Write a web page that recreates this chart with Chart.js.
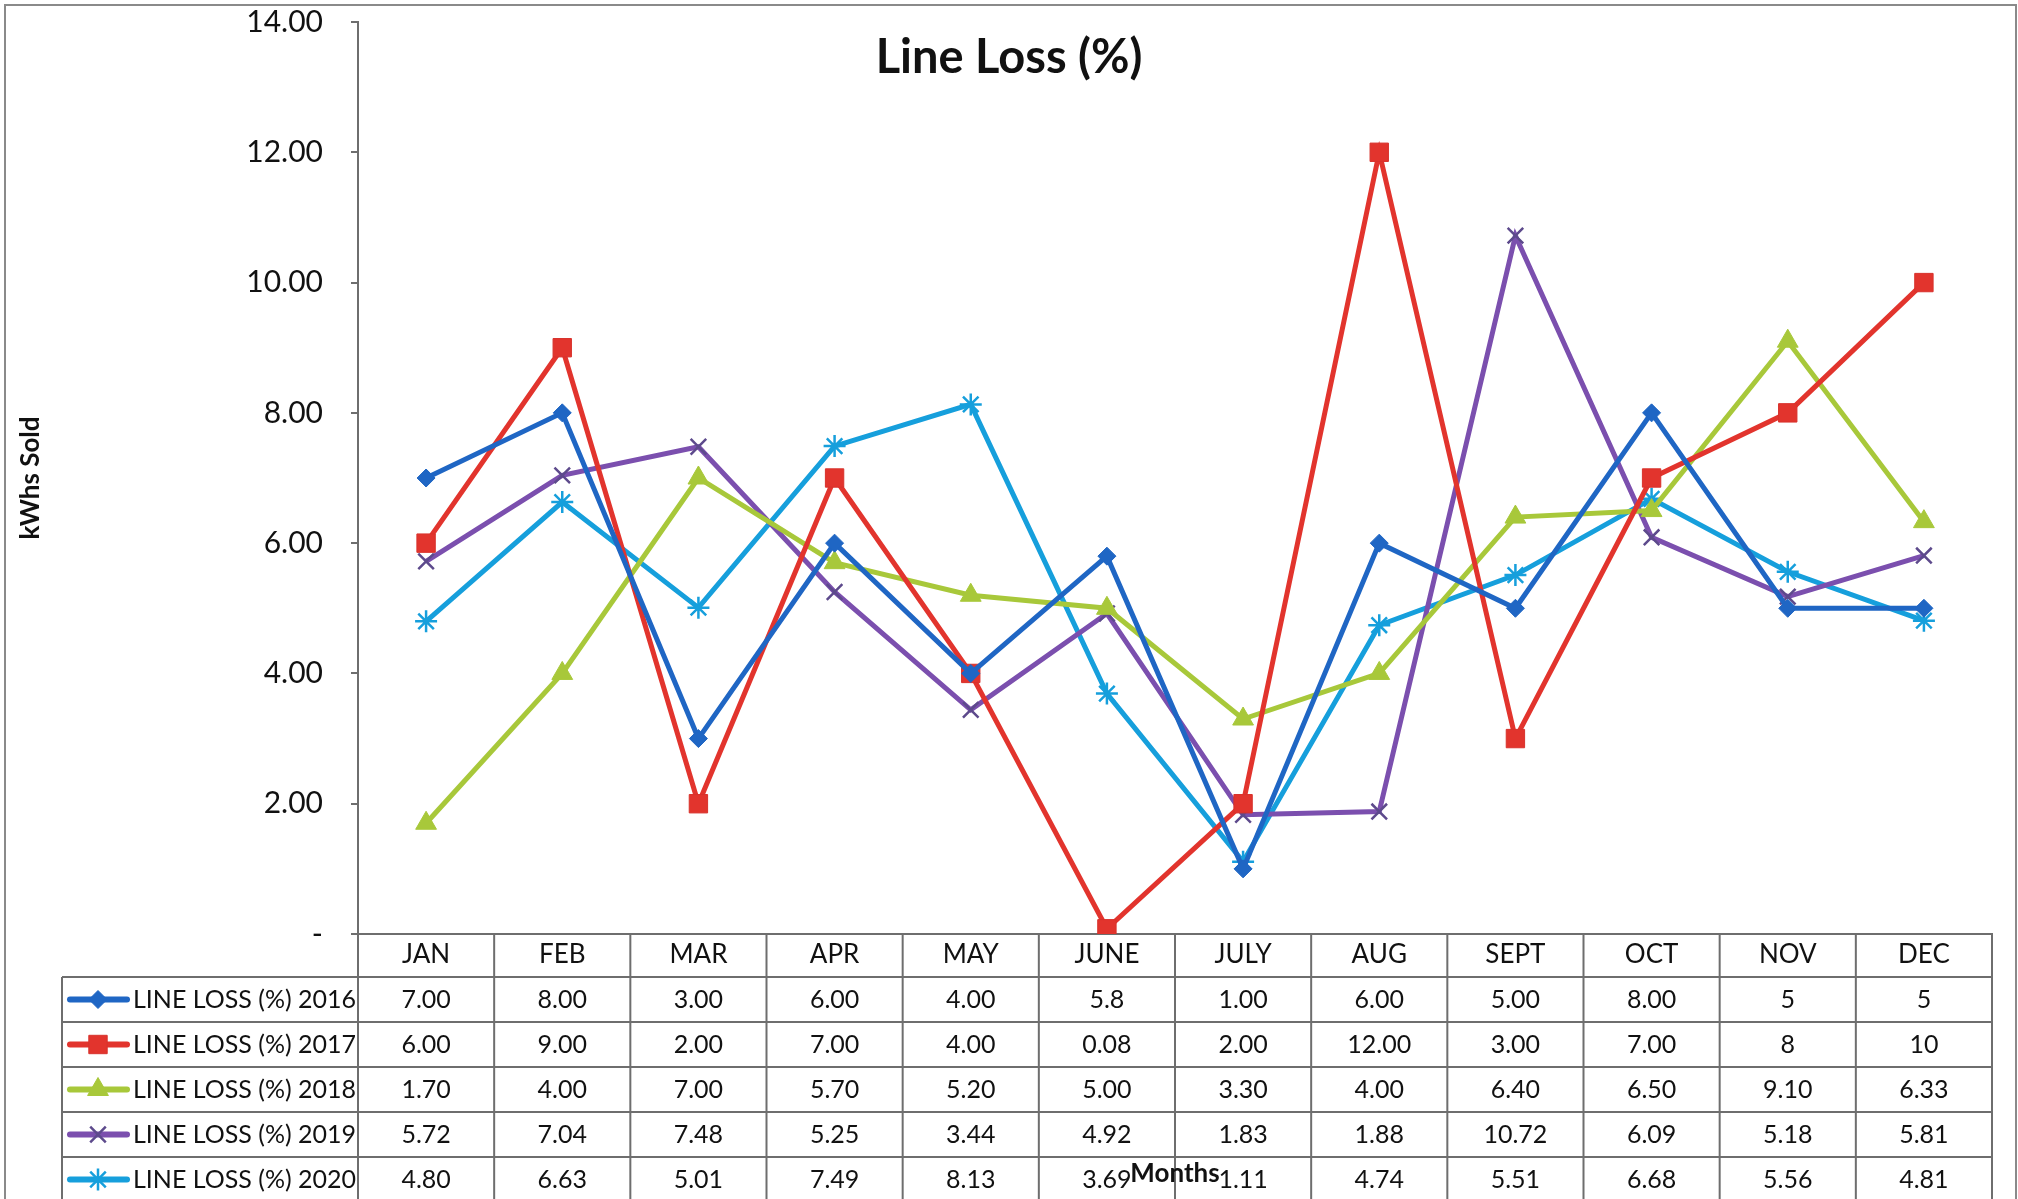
<!DOCTYPE html>
<html>
<head>
<meta charset="utf-8">
<title>Line Loss (%)</title>
<script src="https://cdn.jsdelivr.net/npm/chart.js@4.4.0/dist/chart.umd.min.js"></script>
<style>
  html, body { margin: 0; padding: 0; background: #fff; }
  #wrap { width: 2018px; height: 1199px; }
</style>
</head>
<body>
<div id="wrap"><canvas id="lineLossChart" width="2018" height="1199"></canvas></div>
<script>
// Months on the x axis (also the table header)
const months = ['JAN', 'FEB', 'MAR', 'APR', 'MAY', 'JUNE', 'JULY', 'AUG', 'SEPT', 'OCT', 'NOV', 'DEC'];

// Line loss values as printed in the data table
const loss2016 = ['7.00', '8.00', '3.00', '6.00', '4.00', '5.8', '1.00', '6.00', '5.00', '8.00', '5', '5'];
const loss2017 = ['6.00', '9.00', '2.00', '7.00', '4.00', '0.08', '2.00', '12.00', '3.00', '7.00', '8', '10'];
const loss2018 = ['1.70', '4.00', '7.00', '5.70', '5.20', '5.00', '3.30', '4.00', '6.40', '6.50', '9.10', '6.33'];
const loss2019 = ['5.72', '7.04', '7.48', '5.25', '3.44', '4.92', '1.83', '1.88', '10.72', '6.09', '5.18', '5.81'];
const loss2020 = ['4.80', '6.63', '5.01', '7.49', '8.13', '3.69', '1.11', '4.74', '5.51', '6.68', '5.56', '4.81'];

const seriesNames = ['LINE LOSS (%) 2016', 'LINE LOSS (%) 2017', 'LINE LOSS (%) 2018', 'LINE LOSS (%) 2019', 'LINE LOSS (%) 2020'];
const seriesRows = [loss2016, loss2017, loss2018, loss2019, loss2020];

// Y axis ticks
const yMin = 0;
const yMax = 14;
const yStep = 2;

// Series styling
const seriesColors = ['#1f66c4', '#e2342d', '#a8c83a', '#7b4fae', '#169fdc'];
const markerBorders = ['#1f66c4', '#d8322c', '#a8c83a', '#5d4a8c', '#169fdc'];
const markerStyles = ['rectRot', 'rect', 'triangle', 'crossRot', 'star'];
const markerSizes = [9, 13, 12, 11, 11];

const FONT = 'Lato, "Open Sans", sans-serif';
const GRID = '#6e6e6e';

const datasets = seriesRows.map((row, i) => ({
    label: seriesNames[i],
    data: row.map(Number),
    borderColor: seriesColors[i],
    backgroundColor: seriesColors[i],
    borderWidth: 5,
    tension: 0,
    pointStyle: markerStyles[i],
    pointRadius: markerSizes[i],
    pointBackgroundColor: seriesColors[i],
    pointBorderColor: markerBorders[i],
    pointBorderWidth: (markerStyles[i] === 'crossRot' || markerStyles[i] === 'star') ? 2.5 : 1
}));

// Data table under the plot plus the chart title
const tablePlugin = {
    id: 'dataTable',
    beforeDraw(chart) {
        const ctx = chart.ctx;
        const area = chart.chartArea;
        const x = chart.scales.x;
        const colW = (area.right - area.left) / months.length;
        const headerTop = area.bottom;
        const rowsTop = headerTop + 43;
        const rowH = 45;
        const legendLeft = 62;
        const tableBottom = rowsTop + rowH * seriesRows.length;

        ctx.save();
        ctx.fillStyle = '#fff';
        ctx.fillRect(0, 0, chart.width, chart.height);

        // outer chart border
        ctx.strokeStyle = '#8a8a8a';
        ctx.lineWidth = 2;
        ctx.strokeRect(5, 5, chart.width - 7, chart.height + 10);

        // table grid
        ctx.strokeStyle = GRID;
        ctx.lineWidth = 2;
        ctx.beginPath();
        for (let c = 0; c <= months.length; c++) {
            const cx = area.left + c * colW;
            ctx.moveTo(cx, headerTop);
            ctx.lineTo(cx, tableBottom);
        }
        ctx.moveTo(legendLeft, rowsTop);
        ctx.lineTo(legendLeft, tableBottom);
        for (let r = 0; r <= seriesRows.length; r++) {
            const ry = rowsTop + r * rowH;
            ctx.moveTo(legendLeft, ry);
            ctx.lineTo(area.right, ry);
        }
        ctx.stroke();

        // rows: legend key, name, values
        ctx.textBaseline = 'middle';
        ctx.font = '25px ' + FONT;
        seriesRows.forEach((row, r) => {
            const cy = rowsTop + r * rowH + rowH / 2;
            const ds = chart.data.datasets[r];
            ctx.strokeStyle = ds.borderColor;
            ctx.lineWidth = 6;
            ctx.lineCap = 'round';
            ctx.beginPath();
            ctx.moveTo(70, cy);
            ctx.lineTo(127, cy);
            ctx.stroke();
            ctx.lineCap = 'butt';
            ctx.fillStyle = ds.pointBackgroundColor;
            ctx.strokeStyle = ds.pointBorderColor;
            ctx.lineWidth = ds.pointBorderWidth;
            Chart.helpers.drawPoint(ctx, {
                pointStyle: ds.pointStyle,
                radius: ds.pointRadius,
                borderWidth: ds.pointBorderWidth,
                rotation: 0
            }, 98, cy);

            ctx.fillStyle = '#111';
            ctx.textAlign = 'left';
            ctx.fillText(seriesNames[r], 133, cy);
            ctx.textAlign = 'center';
            row.forEach((v, c) => {
                ctx.fillText(v, x.getPixelForValue(c), cy);
            });
        });

        // title
        ctx.fillStyle = '#111';
        ctx.textAlign = 'center';
        ctx.font = 'bold 47px ' + FONT;
        ctx.fillText('Line Loss (%)', chart.width / 2, 58);
        ctx.restore();
    }
};

new Chart(document.getElementById('lineLossChart'), {
    type: 'line',
    data: { labels: months, datasets: datasets },
    options: {
        responsive: false,
        devicePixelRatio: 1,
        animation: false,
        layout: { autoPadding: false, padding: { top: 22, right: 26, left: 0, bottom: 0 } },
        plugins: {
            legend: { display: false },
            title: { display: false },
            tooltip: { enabled: false }
        },
        scales: {
            x: {
                offset: true,
                afterFit(scale) {
                    scale.height = 265;
                    scale.paddingLeft = 0;
                    scale.paddingRight = 0;
                },
                grid: { display: false, drawTicks: false },
                border: { display: true, color: GRID, width: 2 },
                ticks: {
                    padding: 5,
                    color: '#111',
                    font: { family: FONT, size: 26 },
                    maxRotation: 0,
                    autoSkip: false
                },
                title: {
                    display: true,
                    text: 'Months',
                    color: '#111',
                    font: { family: FONT, size: 26, weight: 'bold' },
                    padding: { top: 0, bottom: 10 }
                }
            },
            y: {
                min: yMin,
                max: yMax,
                afterFit(scale) {
                    scale.width = 358;
                    scale.paddingTop = 0;
                    scale.paddingBottom = 0;
                },
                grid: {
                    drawOnChartArea: false,
                    drawTicks: true,
                    tickLength: 7,
                    tickColor: GRID,
                    lineWidth: 2
                },
                border: { display: true, color: GRID, width: 2 },
                ticks: {
                    stepSize: yStep,
                    padding: 28,
                    color: '#111',
                    font: { family: FONT, size: 30 },
                    callback: (v) => (v === 0 ? '-' : v.toFixed(2))
                },
                title: {
                    display: true,
                    text: 'kWhs Sold',
                    color: '#111',
                    font: { family: FONT, size: 26, weight: 'bold' },
                    padding: { top: 15, bottom: 14 }
                }
            }
        }
    },
    plugins: [tablePlugin]
});
</script>
</body>
</html>
